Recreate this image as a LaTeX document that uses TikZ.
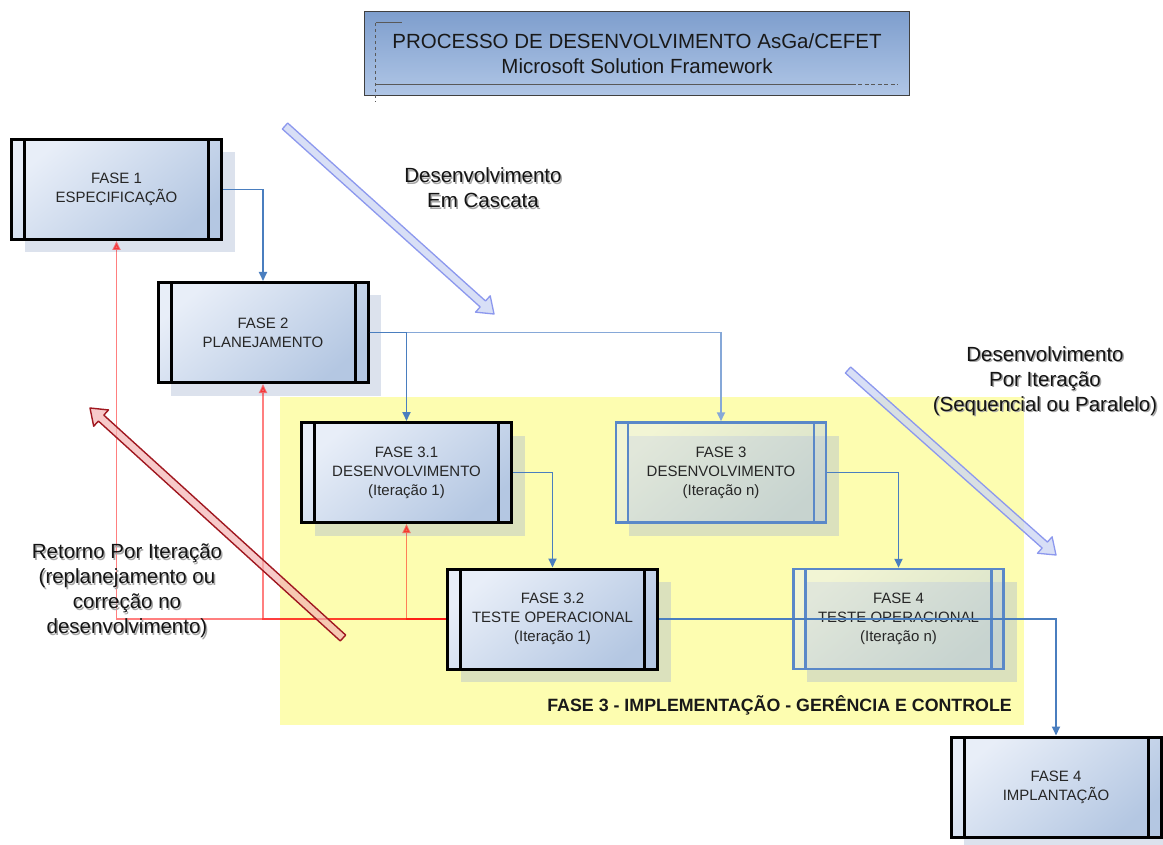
\documentclass[tikz,border=0pt]{standalone}
\usepackage{fontspec}
\setmainfont{Liberation Sans}
\usetikzlibrary{calc,arrows.meta,shadows}

\definecolor{boxlight}{HTML}{E8EEF8}
\definecolor{boxdark}{HTML}{B4C7E2}
\definecolor{shadowblue}{HTML}{A8B8D2}
\definecolor{zoneyellow}{HTML}{FDFDB0}
\definecolor{linkblue}{HTML}{4A7EBF}
\definecolor{linkpale}{HTML}{86A8D8}
\definecolor{iterblue}{HTML}{5A88C8}
\definecolor{titletop}{HTML}{7E9ECD}
\definecolor{titlebot}{HTML}{B0C6E6}
\definecolor{arrowblue}{HTML}{8C98EE}
\definecolor{arrowbluefill}{HTML}{CCD5F4}
\definecolor{arrowred}{HTML}{A01820}
\definecolor{arrowredfill}{HTML}{F4B4B4}

\tikzset{
  phasecore/.style={rectangle, minimum width=210pt, minimum height=100pt, inner sep=0pt,
    align=center, text=black!85, font=\fontsize{15}{19}\selectfont,
    top color=boxlight, bottom color=boxdark, shading angle=40,
    drop shadow={shadow xshift=13pt, shadow yshift=-13pt, fill=shadowblue, opacity=0.4}},
  phase/.style={phasecore, draw=black, line width=3pt,
    path picture={\draw[black, line width=3pt]
      ([xshift=13pt]path picture bounding box.north west) -- ([xshift=13pt]path picture bounding box.south west)
      ([xshift=-13pt]path picture bounding box.north east) -- ([xshift=-13pt]path picture bounding box.south east);}},
  iterphase/.style={phasecore, draw=iterblue, line width=2.5pt, fill opacity=0.5, text opacity=1,
    path picture={\draw[iterblue, line width=2.5pt]
      ([xshift=12pt]path picture bounding box.north west) -- ([xshift=12pt]path picture bounding box.south west)
      ([xshift=-12pt]path picture bounding box.north east) -- ([xshift=-12pt]path picture bounding box.south east);}},
  titlebox/.style={rectangle, minimum width=545pt, minimum height=84pt, inner sep=0pt,
    draw=black!75, line width=1.2pt, top color=titletop, bottom color=titlebot,
    align=center, text=black!90, font=\fontsize{20.5}{25}\selectfont},
  decor/.style={black!65, line width=0.9pt},
  zone/.style={rectangle, fill=zoneyellow, minimum width=744pt, minimum height=328pt, inner sep=0pt},
  zonelabel/.style={font=\bfseries\fontsize{17.8}{20}\selectfont, text=black!90, inner sep=0pt},
  labeltext/.style={align=center, font=\fontsize{20.5}{25}\selectfont, inner sep=0pt},
  flow/.style={linkblue, line width=1.9pt, -{Triangle[length=9pt,width=8pt]}},
  flowpale/.style={flow, linkpale},
  back/.style={red, draw opacity=0.5, fill opacity=0.5, line width=1.9pt, -{Triangle[length=9pt,width=8pt]}},
  bigblue/.style={draw=arrowblue, line width=1.3pt, fill=arrowbluefill, fill opacity=0.75, line join=round},
  bigred/.style={draw=arrowred, line width=1.4pt, fill=arrowredfill, fill opacity=0.7, line join=round},
}

% block arrow from tail #2 to tip #3, drawn with style #1
\newcommand{\blockarrow}[3]{%
  \coordinate (ba-h) at ($(#3)!15pt!(#2)$);
  \draw[#1] ($(#2)!4pt!90:(#3)$) -- ($(ba-h)!4pt!-90:(#2)$) -- ($(ba-h)!11pt!-90:(#2)$)
    -- (#3) -- ($(ba-h)!11pt!90:(#2)$) -- ($(ba-h)!4pt!90:(#2)$) -- ($(#2)!4pt!-90:(#3)$) -- cycle;
}

% label with a soft grey shadow behind it
\newcommand{\softlabel}[3]{%
  \node[labeltext, text=black!35] (#1-halo) at ($(#2)+(1.4,1.4)$) {#3};
  \node[labeltext, text=black!92] (#1) at (#2) {#3};
}

\begin{document}
\begin{tikzpicture}[x=1pt,y=-1pt]
\useasboundingbox (0,0) rectangle (1163,845);
\fill[white] (0,0) rectangle (1163,845);
\clip (0,0) rectangle (1163,845);

% implementation zone
\node[zone] (zone) at (652,561) {};
\node[zonelabel, anchor=east] (zonetitle) at (1012,705)
  {FASE 3 - IMPLEMENTAÇÃO - GERÊNCIA E CONTROLE};

% title
\node[titlebox] (title) at (637,53.5)
  {PROCESSO DE DESENVOLVIMENTO AsGa/CEFET\\Microsoft Solution Framework};
\draw[decor, dashed] ($(title.north west)+(12,12)$) -- ($(title.south west)+(12,6)$);
\draw[decor] ($(title.north west)+(12,12)$) -- ++(26,0);
\draw[decor] ($(title.south west)+(12,-12)$) -- ($(title.south west)+(488,-12)$);
\draw[decor, dash pattern=on 4pt off 2.5pt] ($(title.south west)+(488,-12)$) -- ++(46,0);

% phases
\node[phase] (f1) at (116.5,189.5) {FASE 1\\ESPECIFICAÇÃO};
\node[phase] (f2) at (263,332.5) {FASE 2\\PLANEJAMENTO};
\node[phase] (f31) at (406.5,472.5) {FASE 3.1\\DESENVOLVIMENTO\\(Iteração 1)};
\node[iterphase] (f3n) at (721,472.5) {FASE 3\\DESENVOLVIMENTO\\(Iteração n)};
\node[phase] (f32) at (552.5,619) {FASE 3.2\\TESTE OPERACIONAL\\(Iteração 1)};
\node[iterphase] (f4t) at (898.5,619) {FASE 4\\TESTE OPERACIONAL\\(Iteração n)};
\node[phase] (f4i) at (1056,787) {FASE 4\\IMPLANTAÇÃO};

% return paths
\draw[back] (f32.west) -| (f1.south);
\draw[back] (f32.west) -| (f2.south);
\draw[back] (f32.west) -| (f31.south);

% forward paths
\draw[flow] (f1.east) -| (f2.north);
\draw[flowpale] (f2.east) -| (f3n.north);
\draw[flow] (f2.east) -| (f31.north);
\draw[flow] (f31.east) -| (f32.north);
\draw[flow] (f3n.east) -| (f4t.north);
\draw[flow] (f32.east) -| (f4i.north);

% large direction arrows
\coordinate (cascade-tail) at (285,126);
\coordinate (cascade-tip) at (494,314);
\coordinate (iter-tail) at (848,370);
\coordinate (iter-tip) at (1056,555);
\coordinate (return-tail) at (343,638);
\coordinate (return-tip) at (90,408);
\blockarrow{bigblue}{cascade-tail}{cascade-tip}
\blockarrow{bigblue}{iter-tail}{iter-tip}
\blockarrow{bigred}{return-tail}{return-tip}

% labels
\softlabel{cascade}{483,188}{Desenvolvimento\\Em Cascata}
\softlabel{iteration}{1045,381}{Desenvolvimento\\Por Iteração\\(Sequencial ou Paralelo)}
\softlabel{return}{127,591}{Retorno Por Iteração\\(replanejamento ou\\correção no\\desenvolvimento)}
\end{tikzpicture}
\end{document}
